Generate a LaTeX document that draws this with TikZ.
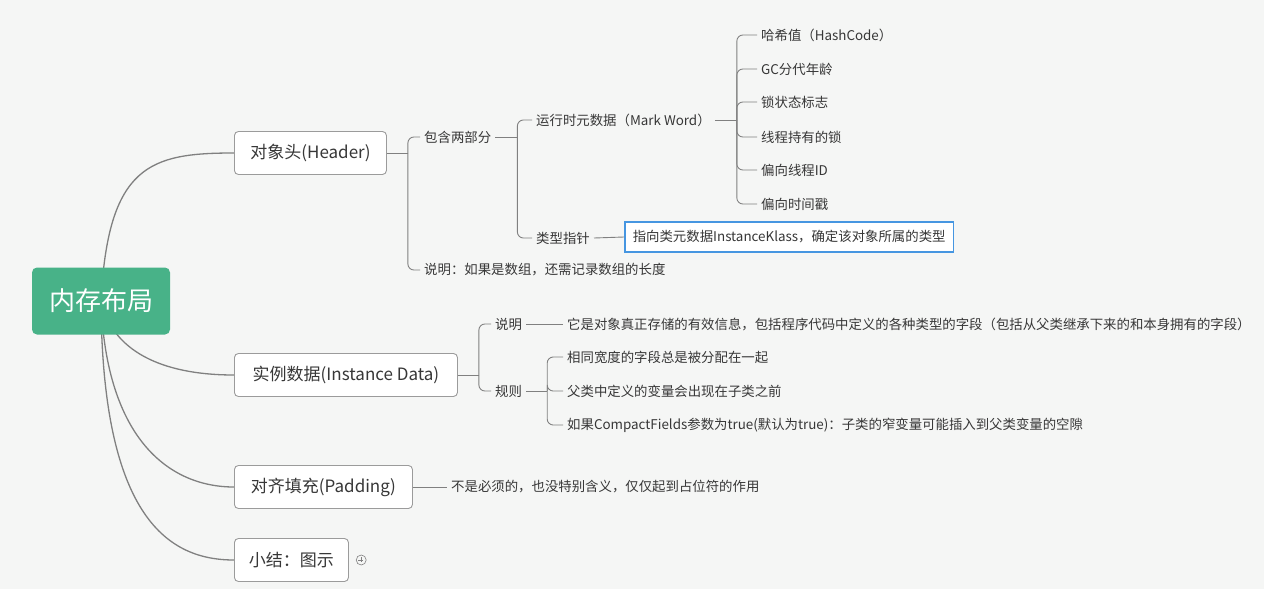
\documentclass[tikz,border=0pt]{standalone}
\usepackage{fontspec}
\setmainfont{Noto Sans CJK SC}
\usetikzlibrary{positioning,backgrounds}
\definecolor{bgcol}{RGB}{245,246,245}
\definecolor{rootgreen}{RGB}{72,178,136}
\definecolor{boxline}{RGB}{155,155,155}
\definecolor{linkgray}{RGB}{128,128,128}
\definecolor{txt}{RGB}{55,55,55}
\definecolor{selblue}{RGB}{70,150,225}
\tikzset{
  topic/.style={draw=boxline, fill=white, rounded corners=4pt, line width=0.9pt,
    font=\fontsize{17}{20}\selectfont, text=txt, minimum height=43pt, anchor=west},
  leaf/.style={font=\fontsize{13.4}{16}\selectfont, text=txt, inner xsep=4pt, inner ysep=2pt, anchor=west},
  link/.style={draw=linkgray, line width=0.9pt},
  elbow/.style={link, rounded corners=6pt},
  stem/.style={draw=linkgray, line width=1.3pt},
}
\begin{document}
\begin{tikzpicture}[x=1pt,y=-1pt]
\useasboundingbox (0,0) rectangle (1264,589);

% main topics
\node[fill=rootgreen, rounded corners=5pt, minimum width=138pt, minimum height=67pt,
  text=white, font=\fontsize{26}{30}\selectfont] (root) at (101,301) {内存布局};
\node[topic, minimum width=152pt] (hdr) at (234,153) {对象头(Header)};
\node[topic, minimum width=223pt] (inst) at (234,375) {实例数据(Instance Data)};
\node[topic, minimum width=178pt] (pad) at (234,487) {对齐填充(Padding)};
\node[topic, minimum width=114pt] (sum) at (234,560) {小结：图示};
\node[circle, draw=linkgray, line width=0.6pt, minimum size=10pt, inner sep=0pt, right=7pt of sum] (fold) {};
\draw[linkgray, line width=0.6pt] (fold.west) ++(2.5,0) -- ++(5,0) (fold.north) ++(0,2.5) -- ++(0,5);

% header
\node[leaf] (two) at (420,137) {包含两部分};
\node[leaf] (hnote) at (420,270) {说明：如果是数组，还需记录数组的长度};
\node[leaf] (mark) at (532,120) {运行时元数据（Mark Word）};
\node[leaf] (kptr) at (532,238) {类型指针};
\node[leaf] (h1) at (757,35) {哈希值（HashCode）};
\node[leaf] (h2) at (757,69) {GC分代年龄};
\node[leaf] (h3) at (757,102) {锁状态标志};
\node[leaf] (h4) at (757,137) {线程持有的锁};
\node[leaf] (h5) at (757,170) {偏向线程ID};
\node[leaf] (h6) at (757,204) {偏向时间戳};
\node[leaf, draw=selblue, line width=1.5pt, fill=white, inner xsep=8pt, minimum height=30pt] (klass) at (624,237)
  {指向类元数据InstanceKlass，确定该对象所属的类型};

% instance data
\node[leaf] (inote) at (491,324) {说明};
\node[leaf] (irule) at (491,391) {规则};
\node[leaf] (idesc) at (563,324) {它是对象真正存储的有效信息，包括程序代码中定义的各种类型的字段（包括从父类继承下来的和本身拥有的字段）};
\node[leaf] (r1) at (563,357) {相同宽度的字段总是被分配在一起};
\node[leaf] (r2) at (563,391) {父类中定义的变量会出现在子类之前};
\node[leaf] (r3) at (563,425) {如果CompactFields参数为true(默认为true)：子类的窄变量可能插入到父类变量的空隙};

% padding
\node[leaf] (pnote) at (447,487) {不是必须的，也没特别含义，仅仅起到占位符的作用};

\begin{scope}[on background layer]
\fill[bgcol] (0,0) rectangle (1264,589);
% root curves
\draw[stem] (root.center) .. controls (108,165) and (150,153) .. (hdr.west);
\draw[stem] (root.center) .. controls (112,350) and (160,375) .. (inst.west);
\draw[stem] (root.center) .. controls (106,440) and (170,487) .. (pad.west);
\draw[stem] (root.center) .. controls (102,520) and (170,560) .. (sum.west);
\end{scope}

% junctions
\path (hdr.east) ++(21,0) coordinate (hj);
\path (two.east) ++(22,0) coordinate (mj);
\path (mark.east) ++(22,0) coordinate (wj);
\path (inst.east) ++(21,0) coordinate (ij);
\path (irule.east) ++(21,0) coordinate (rj);

\draw[link] (hdr.east) -- (hj);
\draw[elbow] (hj) |- (two.west);
\draw[elbow] (hj) |- (hnote.west);
\draw[link] (two.east) -- (mj);
\draw[elbow] (mj) |- (mark.west);
\draw[elbow] (mj) |- (kptr.west);
\draw[link] (mark.east) -- (wj);
\foreach \k in {h1,h2,h3,h4,h5,h6}
  \draw[elbow] (wj) |- (\k.west);
\draw[link] (kptr.east) -- (klass.west);

\draw[link] (inst.east) -- (ij);
\draw[elbow] (ij) |- (inote.west);
\draw[elbow] (ij) |- (irule.west);
\draw[link] (inote.east) -- (idesc.west);
\draw[link] (irule.east) -- (rj);
\foreach \k in {r1,r2,r3}
  \draw[elbow] (rj) |- (\k.west);

\draw[link] (pad.east) -- (pnote.west);
\end{tikzpicture}
\end{document}
